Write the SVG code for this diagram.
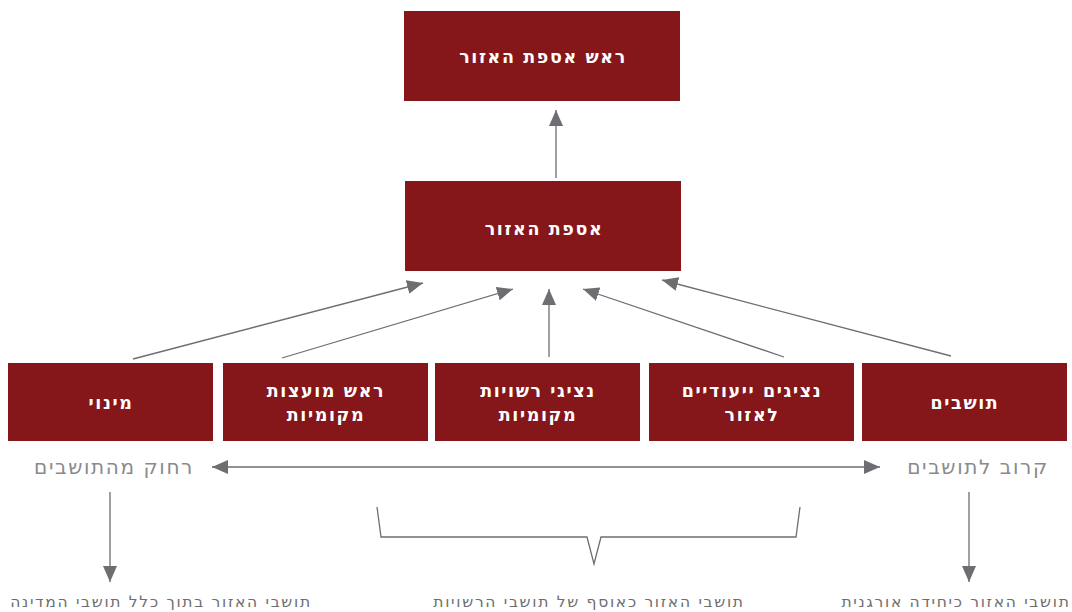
<svg xmlns="http://www.w3.org/2000/svg" width="1072" height="612" viewBox="0 0 1072 612">
<defs>
<marker id="ahb" viewBox="0 0 16 14" refX="16" refY="7" markerWidth="16" markerHeight="14" markerUnits="userSpaceOnUse" orient="auto-start-reverse">
<path d="M0,0 L16,7 L0,14 z" fill="#6d6e71"/>
</marker>
</defs>
<style>
.box{fill:#85161a}
.bt{fill:#ffffff;font-family:"DejaVu Sans",sans-serif;font-weight:bold;font-size:17.5px;letter-spacing:1.6px;text-anchor:middle}
.ln{stroke:#6d6e71;stroke-width:1.3;fill:none}
.mid{fill:#888a8d;font-family:"DejaVu Sans",sans-serif;font-size:20px;letter-spacing:1.6px;text-anchor:middle}
.bot{fill:#6d6e71;font-family:"DejaVu Sans",sans-serif;font-size:15.5px;letter-spacing:1.7px;text-anchor:middle}
</style>
<rect width="1072" height="612" fill="#ffffff"/>
<g id="connectors">
<line class="ln" x1="556" y1="178" x2="556" y2="110" marker-end="url(#ahb)"/>
<line class="ln" x1="133" y1="359" x2="423" y2="283" marker-end="url(#ahb)"/>
<line class="ln" x1="282" y1="358" x2="513" y2="289" marker-end="url(#ahb)"/>
<line class="ln" x1="549" y1="357" x2="549" y2="289" marker-end="url(#ahb)"/>
<line class="ln" x1="784" y1="357" x2="583" y2="289" marker-end="url(#ahb)"/>
<line class="ln" x1="951" y1="356" x2="662" y2="280" marker-end="url(#ahb)"/>
<line class="ln" x1="212" y1="467" x2="880" y2="467" marker-start="url(#ahb)" marker-end="url(#ahb)"/>
<line class="ln" x1="110" y1="492" x2="110" y2="582" marker-end="url(#ahb)"/>
<line class="ln" x1="969" y1="492" x2="969" y2="582" marker-end="url(#ahb)"/>
<path class="ln" d="M377,507 L381,537 L587,537 L594,564 L601,537 L796,537 L800,507"/>
</g>
<g id="n-head">
<rect class="box" x="404" y="11" width="276" height="90"/>
<text class="bt" x="543" y="63">ראש אספת האזור</text>
</g>
<g id="n-assembly">
<rect class="box" x="405" y="181" width="276" height="90"/>
<text class="bt" x="544" y="235">אספת האזור</text>
</g>
<g id="n-appoint">
<rect class="box" x="8" y="363" width="205" height="78"/>
<text class="bt" x="111" y="409">מינוי</text>
</g>
<g id="n-heads">
<rect class="box" x="223" y="363" width="205" height="78"/>
<text class="bt" x="326" y="397">ראש מועצות</text>
<text class="bt" x="326" y="421">מקומיות</text>
</g>
<g id="n-reps">
<rect class="box" x="435" y="363" width="205" height="78"/>
<text class="bt" x="538" y="397">נציגי רשויות</text>
<text class="bt" x="538" y="421">מקומיות</text>
</g>
<g id="n-dedicated">
<rect class="box" x="649" y="363" width="205" height="78"/>
<text class="bt" x="752" y="397">נציגים ייעודיים</text>
<text class="bt" x="752" y="421">לאזור</text>
</g>
<g id="n-residents">
<rect class="box" x="862" y="363" width="205" height="78"/>
<text class="bt" x="965" y="409">תושבים</text>
</g>
<g id="labels">
<text class="mid" x="114" y="474">רחוק מהתושבים</text>
<text class="mid" x="978" y="474">קרוב לתושבים</text>
<text class="bot" x="161" y="607">תושבי האזור בתוך כלל תושבי המדינה</text>
<text class="bot" x="589" y="607">תושבי האזור כאוסף של תושבי הרשויות</text>
<text class="bot" x="956" y="607">תושבי האזור כיחידה אורגנית</text>
</g>
</svg>
